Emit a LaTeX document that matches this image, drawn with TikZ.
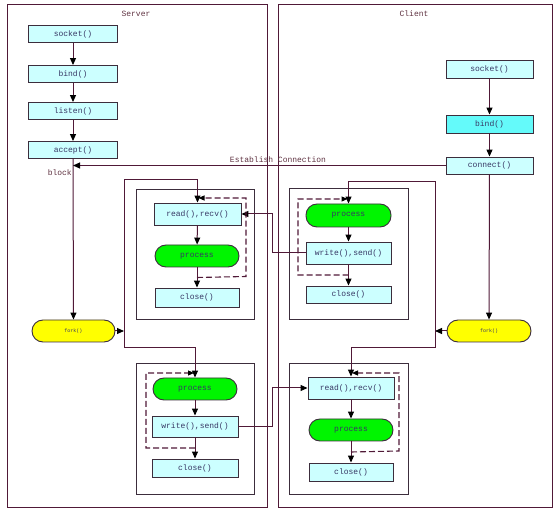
\documentclass[tikz,border=0pt]{standalone}
\usepackage{fontspec}
\setmonofont{Liberation Mono}
\usetikzlibrary{arrows.meta,calc}
\definecolor{linec}{RGB}{80,25,55}
\definecolor{boxline}{RGB}{60,45,60}
\definecolor{lcyan}{RGB}{204,255,255}
\definecolor{dcyan}{RGB}{100,250,250}
\definecolor{pgreen}{RGB}{0,245,0}
\definecolor{pyellow}{RGB}{255,255,0}
\definecolor{txtc}{RGB}{55,55,100}
\definecolor{titlec}{RGB}{95,50,65}
\tikzset{
  x=1pt,y=-1pt,
  fn/.style={draw=boxline,line width=0.9pt,fill=lcyan,inner sep=0pt,
    font=\fontsize{8}{9}\ttfamily,text=txtc,minimum width=#1},
  fn/.default=87pt,
  procbox/.style={draw=boxline,line width=0.9pt,fill=pgreen,inner sep=0pt,
    rounded corners=11pt,font=\fontsize{8}{9}\ttfamily,text=txtc,
    minimum width=84pt,minimum height=22pt},
  forkbox/.style={draw=boxline,line width=0.9pt,fill=pyellow,inner sep=0pt,
    rounded corners=11pt,font=\fontsize{5}{6}\ttfamily,text=txtc,
    minimum width=84pt,minimum height=22pt},
  frame/.style={draw=linec,line width=1pt},
  inner/.style={draw=boxline,line width=1pt},
  conn/.style={draw=linec,line width=1pt,-{Triangle[length=7pt,width=6pt,color=black]}},
  loopline/.style={draw=linec,line width=1.1pt,dash pattern=on 6pt off 3pt,
    -{Triangle[length=6pt,width=5pt,color=black]}},
  lbl/.style={font=\fontsize{8}{9}\ttfamily,text=titlec,inner sep=0pt},
}
\begin{document}
\begin{tikzpicture}
\useasboundingbox (0,0) rectangle (560,521);
% outer frames
\draw[frame] (7,5) rectangle (267,507);
\draw[frame] (278,5) rectangle (552,507);
\node[lbl] (stitle) at (136,14) {Server};
\node[lbl] (ctitle) at (414,14) {Client};
% inner frames
\draw[inner] (136,190) rectangle (254,320);
\draw[inner] (289,189) rectangle (408,320);
\draw[inner] (136,364) rectangle (254,494);
\draw[inner] (289,364) rectangle (408,494);
% server setup
\node[fn=89pt,minimum height=17pt] (ssock) at (73,34) {socket()};
\node[fn=89pt,minimum height=17pt] (sbind) at (73,74) {bind()};
\node[fn=89pt,minimum height=17pt] (slisten) at (73,111) {listen()};
\node[fn=89pt,minimum height=17pt] (saccept) at (73,150) {accept()};
\node[forkbox,minimum width=83pt] (sfork) at (73.5,331) {fork()};
% client setup
\node[fn=87pt,minimum height=18pt] (csock) at (489.5,69) {socket()};
\node[fn=87pt,minimum height=18pt,fill=dcyan] (cbind) at (489.5,124) {bind()};
\node[fn=87pt,minimum height=17pt] (cconn) at (489.5,165.5) {connect()};
\node[forkbox] (cfork) at (489,331) {fork()};
% server top
\node[fn=87pt,minimum height=22pt] (sread) at (197.5,214) {read(),recv()};
\node[procbox] (sproc1) at (197,256) {process};
\node[fn=84pt,minimum height=19pt] (sclose1) at (197,297.5) {close()};
% client top
\node[procbox,minimum width=85pt,minimum height=23pt] (cproc1) at (348.5,215.5) {process};
\node[fn=85pt,minimum height=22pt] (cwrite1) at (348.5,253) {write(),send()};
\node[fn=85pt,minimum height=17pt] (cclose1) at (348.5,294.5) {close()};
% server bottom
\node[procbox] (sproc2) at (195,389) {process};
\node[fn=86pt,minimum height=21pt] (swrite2) at (195,426.5) {write(),send()};
\node[fn=86pt,minimum height=18pt] (sclose2) at (195,468) {close()};
% client bottom
\node[fn=86pt,minimum height=22pt] (cread2) at (351,388) {read(),recv()};
\node[procbox] (cproc2) at (351,430) {process};
\node[fn=84pt,minimum height=18pt] (cclose2) at (351,472) {close()};
% labels
\node[lbl,anchor=east] (blk) at (72,173) {block};
\node[lbl] (estl) at (278,160) {Establish Connection};
% setup arrows
\draw[conn] (ssock) -- (sbind);
\draw[conn] (sbind) -- (slisten);
\draw[conn] (slisten) -- (saccept);
\draw[conn] (saccept) -- (sfork);
\draw[conn] (csock) -- (cbind);
\draw[conn] (cbind) -- (cconn);
\draw[conn] (cconn) -- (cfork);
\draw[conn] (cconn.west) -- (cconn.west -| saccept.south);
% fork distribution
\coordinate (sj) at (124,331);
\coordinate (sjt) at (124,180);
\coordinate (sjb) at (124,348);
\draw[conn] (sfork) -- (sj);
\draw[conn] (sj) -- (sjt) -| (sread.north);
\draw[conn] (sj) -- (sjb) -| (sproc2.north);
\coordinate (cj) at (435,331);
\coordinate (cjt) at (435,182);
\coordinate (cjb) at (435,348);
\draw[conn] (cfork) -- (cj);
\draw[conn] (cj) -- (cjt) -| (cproc1.north);
\draw[conn] (cj) -- (cjb) -| (cread2.north);
% inner flows
\draw[conn] (sread) -- (sproc1);
\draw[conn] (sproc1) -- (sclose1);
\draw[conn] (cproc1) -- (cwrite1);
\draw[conn] (cwrite1) -- (cclose1);
\draw[conn] (sproc2) -- (swrite2);
\draw[conn] (swrite2) -- (sclose2);
\draw[conn] (cread2) -- (cproc2);
\draw[conn] (cproc2) -- (cclose2);
% cross data
\draw[conn] (cwrite1.west) -- (272,253) |- (sread.east);
\draw[conn] (swrite2.east) -- (272,426.5) |- (cread2.west);
% loops
\draw[loopline] ($(sproc1.south)!0.5!(sclose1.north)$) -- (246,276.5) -- (246,198) -- (198.5,198);
\draw[loopline] ($(cwrite1.south)!0.5!(cclose1.north)$) -- (298,275) -- (298,199) -- (347.5,199);
\draw[loopline] ($(swrite2.south)!0.5!(sclose2.north)$) -- (146,448) -- (146,373) -- (194,373);
\draw[loopline] ($(cproc2.south)!0.5!(cclose2.north)$) -- (399,451) -- (399,373) -- (352,373);
\end{tikzpicture}
\end{document}
